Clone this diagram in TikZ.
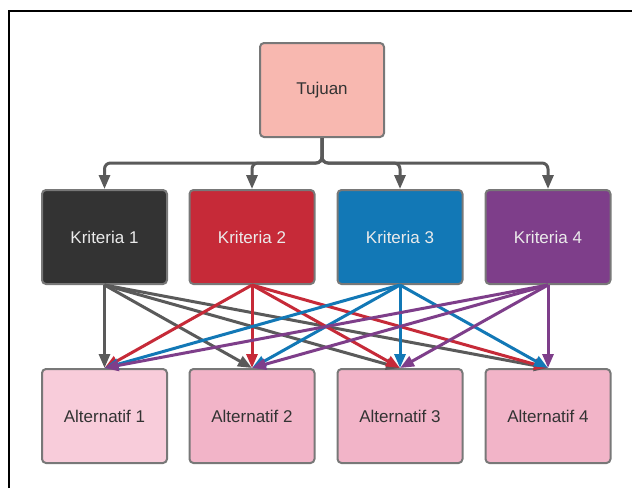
\documentclass[tikz,border=0pt]{standalone}
\usepackage{fontspec}
\setmainfont{Liberation Sans}
\usetikzlibrary{arrows.meta}
\definecolor{bordergray}{HTML}{787878}
\definecolor{tujuanfill}{HTML}{F8B8B0}
\definecolor{kone}{HTML}{333333}
\definecolor{ktwo}{HTML}{C62A38}
\definecolor{kthree}{HTML}{1278B6}
\definecolor{kfour}{HTML}{7E3E8A}
\definecolor{altone}{HTML}{F8CCDA}
\definecolor{altrest}{HTML}{F2B4C8}
\definecolor{linegray}{HTML}{5A5A5A}
\definecolor{txtdark}{HTML}{333333}
\tikzset{
  box/.style={draw=bordergray, line width=2pt, rounded corners=4pt,
    minimum width=125pt, minimum height=94pt, inner sep=0pt,
    font=\fontsize{17}{20}\selectfont},
  conn/.style={line width=3pt, -{Triangle[width=11pt,length=14pt]}},
}
\begin{document}
\begin{tikzpicture}[x=1pt,y=-1pt]
\useasboundingbox (0,0) rectangle (632,488);
\fill[white] (0,0) rectangle (632,488);
\draw[line width=2pt, black] (9,488) -- (9,11) -- (632,11);

\node[box, fill=tujuanfill, text=txtdark, minimum width=124pt] (T) at (322,90) {Tujuan};

\node[box, fill=kone, text=white!92!black] (K1) at (104.5,237) {Kriteria 1};
\node[box, fill=ktwo, text=white!92!black] (K2) at (252,237) {Kriteria 2};
\node[box, fill=kthree, text=white!92!black] (K3) at (400,237) {Kriteria 3};
\node[box, fill=kfour, text=white!92!black] (K4) at (548,237) {Kriteria 4};

\node[box, fill=altone, text=txtdark] (A1) at (104.5,416) {Alternatif 1};
\node[box, fill=altrest, text=txtdark] (A2) at (252,416) {Alternatif 2};
\node[box, fill=altrest, text=txtdark] (A3) at (400,416) {Alternatif 3};
\node[box, fill=altrest, text=txtdark] (A4) at (548,416) {Alternatif 4};

\coordinate (J) at (322,163);
\foreach \k in {K1,K2,K3,K4}{
  \draw[conn, linegray, rounded corners=6pt] (T.south) -- (J) -| (\k.north);
}

\foreach \a in {A1,A2,A3,A4}{
  \draw[conn, linegray] (K1.south) -- (\a.north);
}
\foreach \a in {A1,A2,A3,A4}{
  \draw[conn, ktwo] (K2.south) -- (\a.north);
}
\foreach \a in {A1,A2,A3,A4}{
  \draw[conn, kthree] (K3.south) -- (\a.north);
}
\foreach \a in {A1,A2,A3,A4}{
  \draw[conn, kfour] (K4.south) -- (\a.north);
}
\end{tikzpicture}
\end{document}
